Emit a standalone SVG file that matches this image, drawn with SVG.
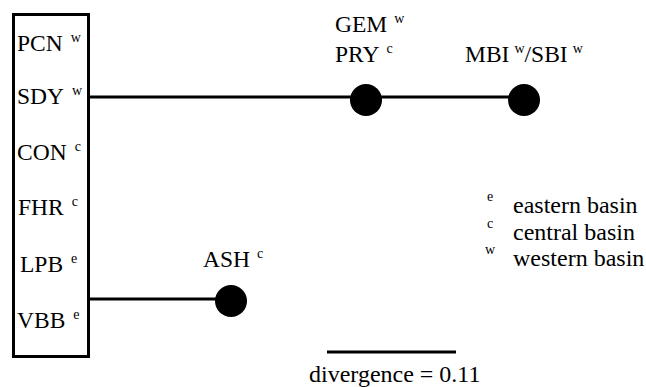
<svg xmlns="http://www.w3.org/2000/svg" width="646" height="387" viewBox="0 0 646 387" font-family="'Liberation Serif', 'Times New Roman', Tinos, 'DejaVu Serif', serif">
<style>
text{font-family:'Liberation Serif','Times New Roman',Tinos,'DejaVu Serif',serif;fill:#000}
.t{font-size:23.5px}
.l{font-size:24px}
.s{font-size:14px}
.e{stroke:#000;stroke-width:3;fill:none}
.n{fill:#000}
</style>
<rect x="0" y="0" width="646" height="387" fill="#fff"/>
<g id="box">
<rect x="13.5" y="14.5" width="75" height="342" fill="#fff" stroke="#000" stroke-width="3"/>
<text class="t" x="17" y="51">PCN<tspan class="s" dx="8" dy="-9">w</tspan></text>
<text class="t" x="17" y="104">SDY<tspan class="s" dx="8" dy="-9">w</tspan></text>
<text class="t" x="17" y="160">CON<tspan class="s" dx="8" dy="-9">c</tspan></text>
<text class="t" x="18" y="215">FHR<tspan class="s" dx="8" dy="-9">c</tspan></text>
<text class="t" x="20" y="272">LPB<tspan class="s" dx="8" dy="-9">e</tspan></text>
<text class="t" x="17" y="328">VBB<tspan class="s" dx="8" dy="-9">e</tspan></text>
</g>
<g id="connectors">
<line class="e" x1="90" y1="97" x2="524" y2="97"/>
<line class="e" x1="90" y1="299" x2="231" y2="299"/>
</g>
<g id="gem">
<circle class="n" cx="366" cy="100" r="16"/>
<text class="t" x="335" y="32">GEM<tspan class="s" dx="7" dy="-9">w</tspan></text>
<text class="t" x="335" y="62">PRY<tspan class="s" dx="7" dy="-9">c</tspan></text>
</g>
<g id="mbi">
<circle class="n" cx="524" cy="100" r="16"/>
<text class="t" x="465" y="62">MBI<tspan class="s" dx="5" dy="-9">w</tspan><tspan dy="9">/SBI</tspan><tspan class="s" dx="5" dy="-9">w</tspan></text>
</g>
<g id="ash">
<circle class="n" cx="231" cy="301" r="16"/>
<text class="t" x="203" y="267">ASH<tspan class="s" dx="7" dy="-9">c</tspan></text>
</g>
<g id="legend">
<text class="s" x="487" y="201">e</text><text class="l" x="513" y="213">eastern basin</text>
<text class="s" x="487" y="228">c</text><text class="l" x="513" y="240">central basin</text>
<text class="s" x="485" y="254">w</text><text class="l" x="513" y="266">western basin</text>
</g>
<g id="scale">
<line class="e" x1="327" y1="352" x2="456" y2="352"/>
<text class="l" x="309" y="382">divergence = 0.11</text>
</g>
</svg>
